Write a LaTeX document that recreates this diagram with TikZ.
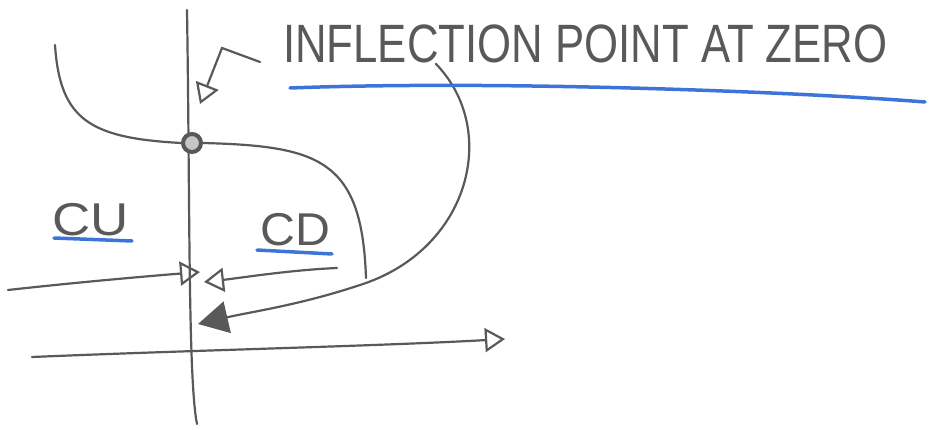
\documentclass[tikz,border=0pt]{standalone}
\usepackage{fontspec}
\setsansfont{Liberation Sans}
\usepackage{tikz}
\usetikzlibrary{arrows.meta}
\definecolor{penGrey}{HTML}{595959}
\definecolor{hiBlue}{HTML}{3D74DA}

\begin{document}
\begin{tikzpicture}[
  x=1pt, y=-1pt,
  pen/.style={draw=penGrey, line width=2.2pt, line cap=round},
  hl/.style={draw=hiBlue, line width=3.5pt, line cap=round},
  lab/.style={font=\sffamily\fontsize{46}{50}\selectfont, text=penGrey, inner sep=0pt, anchor=west},
  opentip/.style={-{Triangle[open, length=20pt, width=24pt, line width=2.2pt]}},
  filltip/.style={-{Triangle[length=30pt, width=32pt]}},
  dot/.style={circle, draw=penGrey, fill=penGrey!35, line width=4pt, minimum size=18pt, inner sep=0pt}
]
\useasboundingbox (0,0) rectangle (939,430);

% labels
\node[lab, font=\sffamily\fontsize{54}{58}\selectfont, xscale=0.81] (title) at (283,44) {INFLECTION POINT AT ZERO};
\node[lab, xscale=1.15] (cu) at (52,220) {CU};
\node[lab, xscale=1.05] (cd) at (260,230) {CD};

% free ends
\coordinate (ytop) at (187,10);
\coordinate (ybot) at (197,424);
\coordinate (xleft) at (32,357);
\coordinate (xright) at (505,339);
\coordinate (cstart) at (55,45);
\coordinate (cend) at (366,278);
\coordinate (sstart) at (436,64);
\coordinate (send) at (198,324);
\coordinate (ptr) at (260,62);
\coordinate (bend) at (222,48);
\coordinate (ptrend) at (200,104);
\coordinate (lstart) at (8,290);
\coordinate (lend) at (200,272);
\coordinate (rstart) at (337,268);
\coordinate (rend) at (204,282);

% axes
\draw[pen] (ytop) .. controls (190,200) and (188,380) .. (ybot);
\draw[pen, opentip] (xleft) .. controls (200,350) and (380,346) .. (xright);

% curves
\node[dot] (ip) at (192,143) {};
\draw[pen] (cstart) .. controls (60,120) and (90,138) .. (ip.west);
\draw[pen] (ip.east) .. controls (320,146) and (362,160) .. (cend);
\draw[pen, filltip] (sstart) .. controls (500,130) and (470,250) .. (360,285)
  .. controls (300,305) and (250,312) .. (send);

% pointer from title
\draw[pen, opentip] (ptr) -- (bend) -- (ptrend);

% horizontal arrows
\draw[pen, opentip] (lstart) .. controls (80,282) and (150,276) .. (lend);
\draw[pen, opentip] (rstart) .. controls (290,270) and (240,278) .. (rend);

% underlines
\draw[hl] (290,88) .. controls (500,80) and (800,92) .. (925,102);
\draw[hl] (54,238) -- (132,241);
\draw[hl] (257,250) -- (332,254);
\end{tikzpicture}
\end{document}
